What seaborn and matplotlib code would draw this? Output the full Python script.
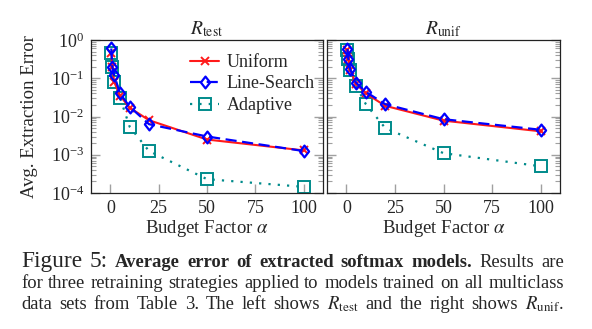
import numpy as np
import pandas as pd
import matplotlib
matplotlib.use("Agg")
import matplotlib.pyplot as plt
import seaborn as sns
from matplotlib.path import Path
from matplotlib.ticker import LogLocator, NullFormatter, FixedLocator

# ---- data ----
alphas = [0.5, 1, 2, 5, 10, 20, 50, 100]
test_uniform = [0.45, 0.2, 0.08, 0.035, 0.017, 0.008, 0.0025, 0.0013]
test_linesearch = [0.6, 0.2, 0.12, 0.04, 0.018, 0.0063, 0.003, 0.00125]
test_adaptive = [0.45, 0.2, 0.08, 0.031, 0.0054, 0.00125, 0.00023, 0.000145]
unif_uniform = [0.55, 0.31, 0.16, 0.072, 0.040, 0.019, 0.0078, 0.0041]
unif_linesearch = [0.58, 0.32, 0.17, 0.076, 0.044, 0.021, 0.0085, 0.0045]
unif_adaptive = [0.55, 0.31, 0.16, 0.063, 0.021, 0.005, 0.0011, 0.0005]
x_ticks = [0, 25, 50, 75, 100]
series_names = ["Uniform", "Line-Search", "Adaptive"]
panel_titles = [r"$R_{\mathrm{test}}$", r"$R_{\mathrm{unif}}$"]
caption_lines = [
    [("Figure 5:", "big", "normal"),
     ("Average error of extracted softmax models.", "reg", "bold"),
     ("Results are", "reg", "normal")],
    [("for three retraining strategies applied to models trained on all multiclass", "reg", "normal")],
    [(r"data sets from Table 3. The left shows $R_{\mathrm{test}}$ and the right shows $R_{\mathrm{unif}}.$", "reg", "normal")],
]

sns.set_theme(style="ticks")
plt.rcParams["font.family"] = ["Liberation Serif", "DejaVu Serif"]
plt.rcParams["mathtext.fontset"] = "stix"
plt.rcParams["axes.edgecolor"] = "#222222"
plt.rcParams["axes.linewidth"] = 0.9

W, H = 592, 329
fig = plt.figure(figsize=(W / 100, H / 100), dpi=100)
ax1 = fig.add_axes([91 / W, 1 - 193 / H, 232 / W, 153 / H])
ax2 = fig.add_axes([327 / W, 1 - 193 / H, 233 / W, 153 / H])

diamond = Path([(0, 1), (0.78, 0), (0, -1), (-0.78, 0), (0, 1)],
               [Path.MOVETO, Path.LINETO, Path.LINETO, Path.LINETO, Path.CLOSEPOLY])

styles = [
    dict(color="#ff1a1a", marker="x", linestyle="-", markersize=6, markeredgewidth=1.4,
         linewidth=1.5),
    dict(color="#0000ff", marker=diamond, linestyle=(0, (5, 2.5)), markersize=8.5,
         markeredgewidth=1.6, markerfacecolor="none", linewidth=1.6),
    dict(color="#008b8b", marker="s", linestyle=(0, (1, 3.2)), markersize=8.5, markeredgewidth=1.4,
         markerfacecolor="none", linewidth=1.6),
]
zorders = [3, 4, 2]

for ax, data in [(ax1, [test_uniform, test_linesearch, test_adaptive]),
                 (ax2, [unif_uniform, unif_linesearch, unif_adaptive])]:
    for name, vals, st, z in zip(series_names, data, styles, zorders):
        df = pd.DataFrame({"alpha": alphas, "err": vals})
        st2 = dict(st)
        st2["markeredgecolor"] = st["color"]
        sns.lineplot(data=df, x="alpha", y="err", ax=ax, label=name, zorder=z, **st2)
    ax.set_yscale("log")
    ax.set_ylim(1e-4, 1e0)
    ax.set_xlim(-10, 110)
    ax.xaxis.set_major_locator(FixedLocator(x_ticks))
    ax.yaxis.set_major_locator(LogLocator(base=10, numticks=10))
    ax.yaxis.set_minor_locator(LogLocator(base=10, subs=np.arange(2, 10), numticks=20))
    ax.yaxis.set_minor_formatter(NullFormatter())
    ax.tick_params(axis="both", which="both", direction="in", color="#a0a0a0",
                   labelsize=13, pad=5)
    ax.tick_params(axis="y", which="both", left=True, right=True)
    ax.tick_params(axis="x", which="both", bottom=True, top=False)
    ax.tick_params(which="major", length=6.5, width=1.0)
    ax.tick_params(which="minor", length=3.5, width=0.8)
    ax.set_xlabel(r"Budget Factor $\alpha$", fontsize=13.5, labelpad=1)
    ax.set_ylabel("")
    leg = ax.get_legend()
    if leg is not None:
        leg.remove()
    for sp in ax.spines.values():
        sp.set_visible(True)

ax1.set_title(panel_titles[0], fontsize=14, pad=4)
ax2.set_title(panel_titles[1], fontsize=14, pad=4)
ax2.tick_params(axis="y", which="both", labelleft=False)
ax1.set_ylabel("Avg. Extraction Error", fontsize=13.5, labelpad=9)

ax1.legend(loc="upper right", frameon=False,
           prop={"family": ["Liberation Serif"], "size": 13}, handlelength=1.6,
           handletextpad=0.4, borderaxespad=0.2, labelspacing=0.25,
           bbox_to_anchor=(1.01, 0.98))

# ---- caption, justified line by line ----
fig.canvas.draw()
renderer = fig.canvas.get_renderer()
x0, x1 = 21, 564
probe = fig.text(0, 0, caption_lines[1][0][0], fontsize=10)
pw = probe.get_window_extent(renderer).width
probe.remove()
reg = 10 * (x1 - x0) / pw * 0.99
sizes = {"big": reg * 1.25, "reg": reg}
baselines = [267, 288, 309]
for line, base in zip(caption_lines, baselines):
    words = []
    for text, sz, wt in line:
        for wd in text.split(" "):
            words.append((wd, sizes[sz], wt))
    objs = []
    for wd, sz, wt in words:
        t = fig.text(0, 1 - base / H, wd, fontsize=sz, fontweight=wt,
                     va="baseline", ha="left")
        objs.append(t)
    widths = [t.get_window_extent(renderer).width for t in objs]
    gap = (x1 - x0 - sum(widths)) / max(len(objs) - 1, 1)
    x = x0
    for t, w in zip(objs, widths):
        t.set_x(x / W)
        x += w + gap

fig.savefig("out.png", dpi=100)
